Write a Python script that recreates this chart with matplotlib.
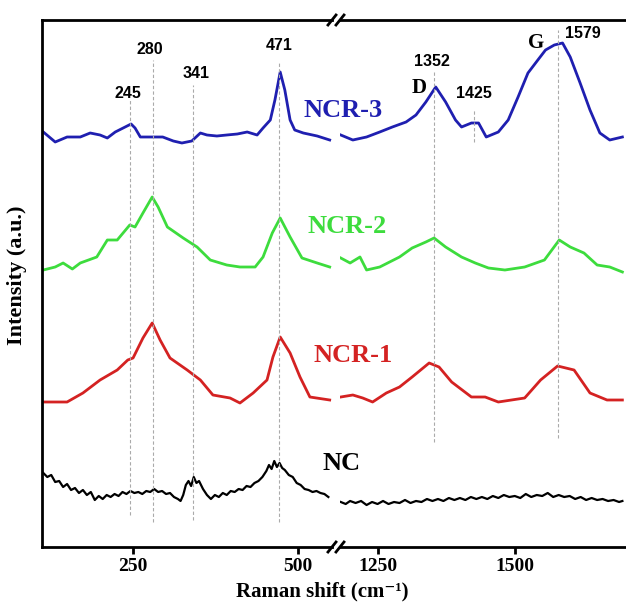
import matplotlib.pyplot as plt
from matplotlib.lines import Line2D

# ---- data (Raman shift in cm-1, intensity in arbitrary offset units) ----
# NCR-3 (blue)
ncr3_lo_x = [114, 132, 150, 170, 185, 200, 211, 223, 235, 247, 253, 261, 276, 295, 311, 324, 339,
             352, 362, 377, 392, 408, 423, 438, 447, 458, 465, 473, 480, 488, 495, 508, 529, 548]
ncr3_lo_y = [415, 405, 410, 410, 414, 412, 409, 415, 419, 423, 419, 410, 410, 410, 406, 404, 406,
             414, 412, 411, 412, 413, 415, 412, 419, 427, 447, 475, 457, 427, 417, 414, 411, 407]
ncr3_hi_x = [1183, 1205, 1230, 1254, 1277, 1302, 1320, 1338, 1356, 1374, 1392, 1403, 1421, 1434,
             1448, 1470, 1488, 1506, 1524, 1542, 1556, 1572, 1587, 1601, 1619, 1637, 1655, 1673, 1696]
ncr3_hi_y = [412, 407, 410, 415, 420, 425, 432, 445, 460, 445, 427, 420, 424, 424,
             410, 415, 427, 450, 474, 487, 497, 502, 504, 490, 464, 437, 414, 407, 410]

# NCR-2 (green)
ncr2_lo_x = [114, 132, 144, 158, 170, 195, 211, 226, 245, 253, 265, 279, 288, 302, 326, 347, 367,
             392, 412, 435, 447, 461, 473, 488, 506, 529, 548]
ncr2_lo_y = [277, 280, 284, 278, 284, 290, 307, 307, 322, 320, 334, 350, 340, 320, 309, 300, 287,
             282, 280, 280, 290, 314, 329, 310, 289, 284, 280]
ncr2_hi_x = [1183, 1200, 1218, 1230, 1254, 1272, 1290, 1313, 1338, 1353, 1374, 1403, 1428, 1452,
             1482, 1518, 1554, 1581, 1601, 1626, 1650, 1673, 1696]
ncr2_hi_y = [289, 284, 290, 277, 280, 285, 290, 299, 305, 309, 300, 290, 284, 279,
             277, 280, 287, 307, 300, 294, 282, 280, 275]

# NCR-1 (red)
ncr1_lo_x = [114, 150, 174, 200, 226, 242, 250, 265, 279, 291, 306, 332, 352, 371, 397, 412, 432,
             453, 462, 473, 488, 503, 518, 548]
ncr1_lo_y = [145, 145, 154, 167, 177, 187, 189, 209, 224, 207, 189, 177, 167, 152, 149, 144, 154,
             167, 190, 210, 194, 170, 150, 147]
ncr1_hi_x = [1183, 1205, 1223, 1241, 1266, 1290, 1313, 1344, 1362, 1385, 1421, 1446, 1470, 1518,
             1547, 1578, 1608, 1637, 1668, 1696]
ncr1_hi_y = [150, 152, 149, 145, 154, 160, 170, 184, 180, 165, 150, 150, 145, 149,
             167, 181, 177, 154, 147, 147]

# NC (black, noisy)
nc_lo_x = [114, 120, 126, 132, 138, 144, 150, 156, 162, 168, 174, 180, 186, 192, 198, 204, 210, 216,
           222, 228, 234, 240, 246, 252, 258, 264, 270, 276, 282, 288, 294, 300, 306, 312, 318, 322,
           326, 330, 334, 338, 342, 346, 350, 356, 362, 368, 374, 380, 386, 392, 398, 404, 410, 416,
           422, 428, 434, 440, 446, 452, 456, 460, 464, 468, 472, 476, 480, 486, 492, 498, 504, 510,
           516, 522, 528, 534, 540, 546]
nc_lo_y = [74, 70, 72, 65, 66, 60, 63, 57, 59, 54, 57, 52, 55, 47, 51, 48, 52, 50,
           53, 51, 55, 53, 56, 54, 55, 53, 56, 55, 58, 55, 56, 53, 54, 50, 48, 46,
           52, 62, 66, 61, 70, 64, 66, 58, 52, 48, 52, 50, 54, 52, 56, 55, 58, 57,
           61, 60, 64, 66, 70, 76, 82, 78, 86, 80, 84, 79, 77, 72, 70, 64, 62, 58,
           57, 55, 56, 54, 53, 50]
nc_hi_x = [1183, 1192, 1200, 1210, 1220, 1230, 1240, 1250, 1260, 1270, 1280, 1290, 1300, 1310,
           1320, 1330, 1340, 1350, 1360, 1370, 1380, 1390, 1400, 1410, 1420, 1430, 1440, 1450,
           1460, 1470, 1480, 1490, 1500, 1510, 1520, 1530, 1540, 1550, 1560, 1570, 1580, 1590,
           1600, 1610, 1620, 1630, 1640, 1650, 1660, 1670, 1680, 1690, 1696]
nc_hi_y = [45, 43, 46, 44, 46, 42, 45, 43, 46, 43, 45, 44, 47, 44,
           46, 45, 48, 46, 48, 46, 49, 47, 49, 47, 50, 48, 50, 48,
           51, 49, 52, 50, 51, 49, 53, 50, 52, 51, 54, 50, 52, 50,
           51, 48, 50, 47, 49, 47, 48, 46, 47, 45, 46]

# peak marker lines: position, bottom, top
peaks_lo = [(245, 32, 447), (280, 25, 487), (341, 27, 462), (471, 25, 485)]
peaks_hi = [(1352, 105, 477), (1425, 405, 437), (1579, 109, 517)]
peak_labels_lo = [('245', 242, 453), ('280', 276, 497), ('341', 345, 473), ('471', 471, 502)]
peak_labels_hi = [('1352', 1349, 485), ('1425', 1425, 454), ('1579', 1624, 514)]

c_blue = '#1f1fb0'
c_green = '#3ddc3d'
c_red = '#d42222'
c_black = '#000000'

serif = ['Liberation Serif', 'DejaVu Serif']
sans = 'Liberation Sans'

W, H = 626, 603
fig = plt.figure(figsize=(W / 100, H / 100), dpi=100)

x_left, x_brk1, x_brk2, y_bot, y_top = 42, 332, 340, 547, 20
ax1 = fig.add_axes([x_left / W, (H - y_bot) / H, (x_brk1 - x_left) / W, (y_bot - y_top) / H])
ax2 = fig.add_axes([x_brk2 / W, (H - y_bot) / H, (W - x_brk2) / W + 0.01, (y_bot - y_top) / H])

ax1.set_xlim(112, 551.5)
ax2.set_xlim(1181.6, 1714)
for ax in (ax1, ax2):
    ax.set_ylim(0, 527)
    ax.set_yticks([])
    for s in ax.spines.values():
        s.set_linewidth(2.0)
    ax.tick_params(axis='x', direction='out', length=5, width=2, pad=3)
ax1.spines['right'].set_visible(False)
ax2.spines['left'].set_visible(False)
ax2.spines['right'].set_visible(False)
ax1.set_xticks([250, 500])
ax2.set_xticks([1250, 1500])
for ax in (ax1, ax2):
    for lbl in ax.get_xticklabels():
        lbl.set_fontfamily(serif)
        lbl.set_fontweight('bold')
        lbl.set_fontsize(14)

lw = 2.0
ax1.plot(ncr3_lo_x, ncr3_lo_y, color=c_blue, lw=lw)
ax2.plot(ncr3_hi_x, ncr3_hi_y, color=c_blue, lw=lw)
ax1.plot(ncr2_lo_x, ncr2_lo_y, color=c_green, lw=lw)
ax2.plot(ncr2_hi_x, ncr2_hi_y, color=c_green, lw=lw)
ax1.plot(ncr1_lo_x, ncr1_lo_y, color=c_red, lw=lw)
ax2.plot(ncr1_hi_x, ncr1_hi_y, color=c_red, lw=lw)
ax1.plot(nc_lo_x, nc_lo_y, color=c_black, lw=1.6)
ax2.plot(nc_hi_x, nc_hi_y, color=c_black, lw=1.6)

# dashed peak lines and labels
for x, y0, y1 in peaks_lo:
    ax1.vlines(x, y0, y1, colors='#aaaaaa', linestyles=(0, (3, 2)), lw=0.8)
for x, y0, y1 in peaks_hi:
    ax2.vlines(x, y0, y1, colors='#aaaaaa', linestyles=(0, (3, 2)), lw=0.8)
for t, x, y in peak_labels_lo:
    ax1.text(x, y, t, ha='center', va='center', fontsize=11.5, fontweight='bold', family=sans)
for t, x, y in peak_labels_hi:
    ax2.text(x, y, t, ha='center', va='center', fontsize=11.5, fontweight='bold', family=sans)
ax2.text(1326, 459, 'D', ha='center', va='center', fontsize=15, fontweight='bold', family=serif)
ax2.text(1538, 504, 'G', ha='center', va='center', fontsize=15, fontweight='bold', family=serif)

# series names
names = [('NCR-3', c_blue, 343, 110), ('NCR-2', c_green, 347, 227),
         ('NCR-1', c_red, 353, 355), ('NC', c_black, 342, 463)]
for t, c, px, py in names:
    fig.text(px / W, 1 - py / H, t, color=c, ha='center', va='center',
             fontsize=19, fontweight='bold', family=serif)

# break marks
for yb in (y_top, y_bot):
    for xb in (x_brk1, x_brk2):
        fig.add_artist(Line2D([(xb - 4) / W, (xb + 4) / W], [1 - (yb + 5) / H, 1 - (yb - 5) / H],
                              color='black', lw=2.0))

fig.text(17 / W, 1 - 275 / H, 'Intensity (a.u.)', rotation=90, ha='center', va='center',
         fontsize=16, fontweight='bold', family=serif)
fig.text(322 / W, 1 - 591 / H, 'Raman shift (cm\u207b\u00b9)', ha='center', va='center',
         fontsize=15, fontweight='bold', family=serif)

fig.savefig('out.png', dpi=100)
